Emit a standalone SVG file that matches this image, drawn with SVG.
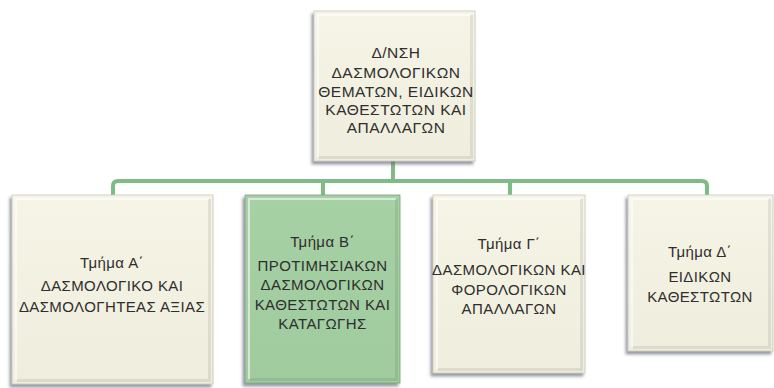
<svg xmlns="http://www.w3.org/2000/svg" width="774" height="388" viewBox="0 0 774 388">
  <defs>
    <filter id="sh" x="-10%" y="-10%" width="120%" height="125%">
      <feDropShadow dx="-2" dy="3" stdDeviation="1.6" flood-color="#5a5f75" flood-opacity="0.65"/>
    </filter>
    <linearGradient id="cream" x1="0" y1="0" x2="0" y2="1">
      <stop offset="0" stop-color="#F6F4E6"/>
      <stop offset="1" stop-color="#EFEDDD"/>
    </linearGradient>
    <linearGradient id="green" x1="0" y1="0" x2="0" y2="1">
      <stop offset="0" stop-color="#A6D1A4"/>
      <stop offset="1" stop-color="#9FCB9E"/>
    </linearGradient>
  </defs>
  <style>
    .box { filter: url(#sh); }
    .cr { fill: url(#cream); stroke: #C9C8BC; stroke-width: 0.8; }
    .gr { fill: url(#green); stroke: #7E9E80; stroke-width: 0.8; }
    .hl { fill: none; stroke: #FFFFFF; stroke-opacity: 0.55; stroke-width: 2; }
    .dk { fill: none; stroke: #000000; stroke-opacity: 0.08; stroke-width: 3; }
    .t { font-family: "Liberation Sans", "DejaVu Sans", sans-serif; font-size: 15px; letter-spacing: 0.4px; fill: #2E2E2E; text-anchor: middle; }
    .tt { font-size: 15.5px; letter-spacing: 0.5px; }
    .c { fill: none; stroke: #7DBD85; stroke-width: 4; }
  </style>

  <rect width="774" height="388" fill="#FFFFFF"/>

  <g id="connectors">
    <path class="c" d="M393,161 V181"/>
    <path class="c" d="M113,195 V186 Q113,181 118,181 H702 Q707,181 707,186 V195"/>
    <path class="c" d="M323,181 V195"/>
    <path class="c" d="M510,181 V195"/>
  </g>

  <g id="top">
    <rect class="box cr" x="314" y="11" width="161" height="150"/>
    <path class="hl" d="M318,157 V15 H471"/>
    <path class="dk" d="M319,157.5 H471.5 V15"/>
    <text class="t tt" x="396" y="58">Δ/ΝΣΗ</text>
    <text class="t tt" x="396" y="78">ΔΑΣΜΟΛΟΓΙΚΩΝ</text>
    <text class="t tt" x="396" y="97">ΘΕΜΑΤΩΝ, ΕΙΔΙΚΩΝ</text>
    <text class="t tt" x="396" y="115">ΚΑΘΕΣΤΩΤΩΝ ΚΑΙ</text>
    <text class="t tt" x="396" y="133">ΑΠΑΛΛΑΓΩΝ</text>
  </g>

  <g id="tmimaA">
    <rect class="box cr" x="12" y="195" width="201" height="189"/>
    <path class="hl" d="M16,380 V199 H209"/>
    <path class="dk" d="M17,380.5 H209.5 V199"/>
    <text class="t" x="112" y="268">Τμήμα Α΄</text>
    <text class="t" x="112" y="291">ΔΑΣΜΟΛΟΓΙΚΟ ΚΑΙ</text>
    <text class="t" x="112" y="312">ΔΑΣΜΟΛΟΓΗΤΕΑΣ ΑΞΙΑΣ</text>
  </g>

  <g id="tmimaB">
    <rect class="box gr" x="245" y="195" width="155" height="188"/>
    <path class="hl" d="M249,379 V199 H396"/>
    <path class="dk" d="M250,379.5 H396.5 V199"/>
    <text class="t" x="322.5" y="247">Τμήμα Β΄</text>
    <text class="t" x="322.5" y="271">ΠΡΟΤΙΜΗΣΙΑΚΩΝ</text>
    <text class="t" x="322.5" y="290">ΔΑΣΜΟΛΟΓΙΚΩΝ</text>
    <text class="t" x="322.5" y="310">ΚΑΘΕΣΤΩΤΩΝ ΚΑΙ</text>
    <text class="t" x="322.5" y="329">ΚΑΤΑΓΩΓΗΣ</text>
  </g>

  <g id="tmimaG">
    <rect class="box cr" x="433" y="195" width="152" height="178"/>
    <path class="hl" d="M437,369 V199 H581"/>
    <path class="dk" d="M438,369.5 H581.5 V199"/>
    <text class="t" x="509" y="249">Τμήμα Γ΄</text>
    <text class="t" x="509" y="275">ΔΑΣΜΟΛΟΓΙΚΩΝ ΚΑΙ</text>
    <text class="t" x="509" y="295">ΦΟΡΟΛΟΓΙΚΩΝ</text>
    <text class="t" x="509" y="314">ΑΠΑΛΛΑΓΩΝ</text>
  </g>

  <g id="tmimaD">
    <rect class="box cr" x="628" y="195" width="145" height="156"/>
    <path class="hl" d="M632,347 V199 H769"/>
    <path class="dk" d="M633,347.5 H769.5 V199"/>
    <text class="t" x="700" y="257">Τμήμα Δ΄</text>
    <text class="t" x="700" y="282">ΕΙΔΙΚΩΝ</text>
    <text class="t" x="700" y="302">ΚΑΘΕΣΤΩΤΩΝ</text>
  </g>
</svg>
